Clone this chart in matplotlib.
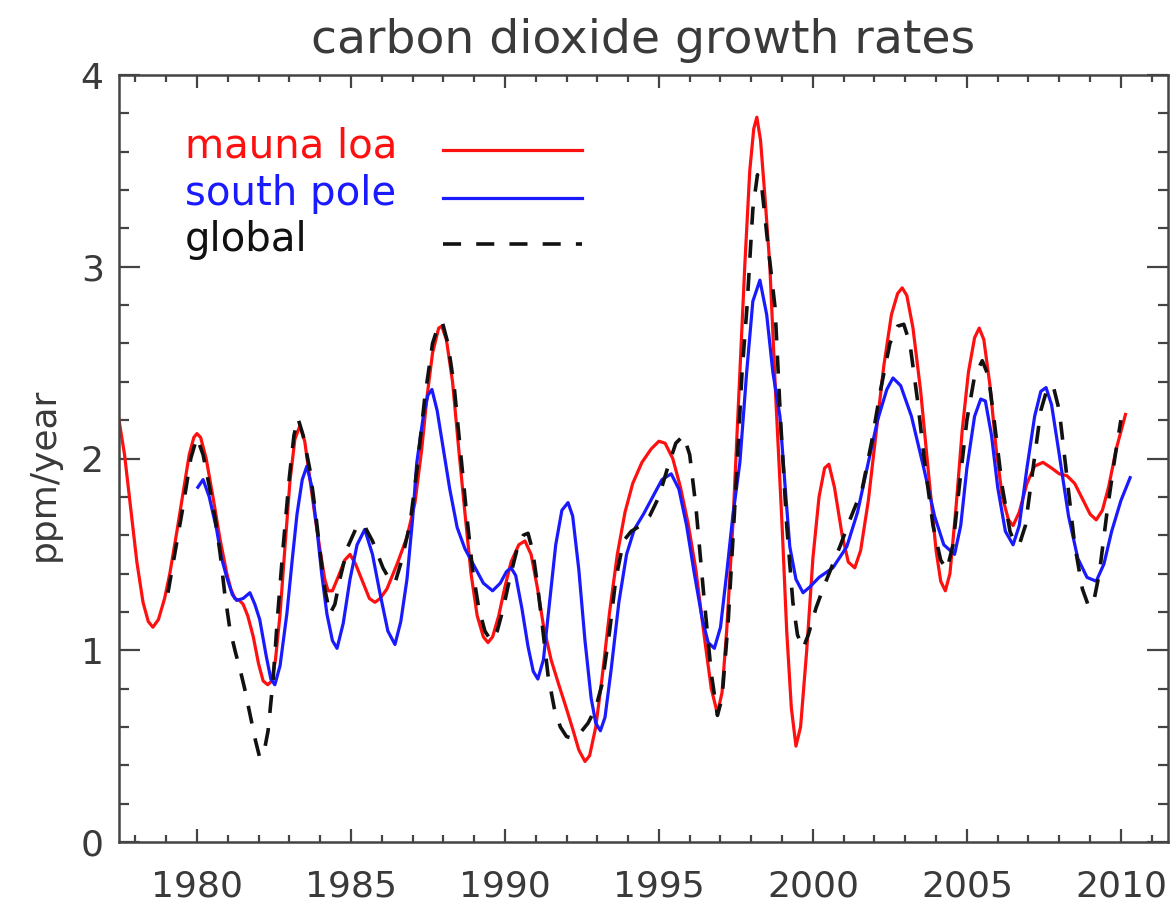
import matplotlib
matplotlib.use("Agg")
import matplotlib.pyplot as plt
from matplotlib.ticker import MultipleLocator

# values (year, ppm/year)
mauna_loa_year = [
    1977.47, 1977.65, 1977.85, 1978.05, 1978.25, 1978.42, 1978.57, 1978.75, 1978.95, 1979.12,
    1979.35, 1979.55, 1979.75, 1979.9, 1980.0, 1980.12, 1980.3, 1980.52, 1980.75, 1980.97,
    1981.1, 1981.23, 1981.38, 1981.5, 1981.65, 1981.83, 1982.0, 1982.15, 1982.3, 1982.43,
    1982.55, 1982.7, 1982.85, 1983.02, 1983.18, 1983.34, 1983.5, 1983.67, 1983.85, 1984.0,
    1984.15, 1984.26, 1984.4, 1984.58, 1984.8, 1984.97, 1985.15, 1985.4, 1985.6, 1985.78,
    1985.95, 1986.17, 1986.5, 1986.82, 1987.08, 1987.3, 1987.47, 1987.65, 1987.85, 1987.95,
    1988.1, 1988.3, 1988.5, 1988.7, 1988.9, 1989.1, 1989.3, 1989.45, 1989.6, 1989.8,
    1990.0, 1990.2, 1990.45, 1990.65, 1990.85, 1991.05, 1991.25, 1991.5, 1991.75, 1991.95,
    1992.2, 1992.4, 1992.6, 1992.75, 1992.95, 1993.15, 1993.4, 1993.65, 1993.9, 1994.15,
    1994.45, 1994.75, 1995.0, 1995.2, 1995.45, 1995.7, 1995.95, 1996.2, 1996.45, 1996.7,
    1996.9, 1997.05, 1997.2, 1997.4, 1997.6, 1997.79, 1997.95, 1998.08, 1998.18, 1998.3,
    1998.45, 1998.6, 1998.8, 1999.0, 1999.15, 1999.3, 1999.45, 1999.6, 1999.8, 2000.0,
    2000.2, 2000.38, 2000.52, 2000.7, 2000.95, 2001.15, 2001.36, 2001.55, 2001.8, 2002.05,
    2002.3, 2002.55, 2002.75, 2002.9, 2003.05, 2003.25, 2003.5, 2003.75, 2004.0, 2004.15,
    2004.3, 2004.45, 2004.65, 2004.85, 2005.05, 2005.25, 2005.4, 2005.55, 2005.75, 2005.95,
    2006.15, 2006.35, 2006.5, 2006.7, 2006.95, 2007.2, 2007.47, 2007.75, 2008.0, 2008.25,
    2008.5, 2008.75, 2009.0, 2009.2, 2009.4, 2009.6, 2009.85, 2010.15,
]
mauna_loa_rate = [
    2.20, 2.02, 1.74, 1.46, 1.25, 1.15, 1.12, 1.16, 1.27, 1.40,
    1.62, 1.82, 2.02, 2.11, 2.13, 2.11, 2.00, 1.80, 1.58, 1.40,
    1.32, 1.27, 1.26, 1.24, 1.18, 1.07, 0.93, 0.84, 0.82, 0.84,
    0.95, 1.19, 1.52, 1.88, 2.10, 2.17, 2.09, 1.89, 1.68, 1.52,
    1.37, 1.31, 1.31, 1.38, 1.47, 1.50, 1.45, 1.35, 1.27, 1.25,
    1.27, 1.32, 1.45, 1.59, 1.77, 2.05, 2.32, 2.55, 2.68, 2.69,
    2.62, 2.40, 2.05, 1.72, 1.40, 1.18, 1.07, 1.04, 1.07, 1.18,
    1.33, 1.46, 1.55, 1.57, 1.50, 1.33, 1.13, 0.95, 0.82, 0.72,
    0.59, 0.48, 0.42, 0.45, 0.60, 0.85, 1.20, 1.50, 1.72, 1.87,
    1.98, 2.05, 2.09, 2.08, 2.00, 1.85, 1.66, 1.42, 1.10, 0.80,
    0.67, 0.78, 1.10, 1.65, 2.35, 3.01, 3.50, 3.72, 3.78, 3.66,
    3.35, 3.01, 2.30, 1.65, 1.10, 0.70, 0.50, 0.60, 1.00, 1.48,
    1.80, 1.95, 1.97, 1.85, 1.60, 1.46, 1.43, 1.52, 1.78, 2.13,
    2.48, 2.75, 2.86, 2.89, 2.85, 2.68, 2.35, 1.93, 1.52, 1.36,
    1.31, 1.40, 1.75, 2.15, 2.45, 2.63, 2.68, 2.62, 2.38, 2.05,
    1.80, 1.68, 1.65, 1.72, 1.87, 1.96, 1.98, 1.95, 1.92, 1.91,
    1.87, 1.79, 1.71, 1.68, 1.73, 1.85, 2.05, 2.23,
]

south_pole_year = [
    1980.03, 1980.2, 1980.4, 1980.64, 1980.8, 1980.97, 1981.15, 1981.29, 1981.5, 1981.72,
    1981.88, 1982.04, 1982.25, 1982.4, 1982.53, 1982.7, 1982.92, 1983.1, 1983.25, 1983.42,
    1983.57, 1983.72, 1983.9, 1984.05, 1984.22, 1984.4, 1984.55, 1984.75, 1984.97, 1985.2,
    1985.45, 1985.7, 1985.94, 1986.2, 1986.43, 1986.62, 1986.82, 1987.0, 1987.14, 1987.35,
    1987.5, 1987.63, 1987.8, 1988.0, 1988.21, 1988.45, 1988.7, 1989.0, 1989.3, 1989.6,
    1989.85, 1990.05, 1990.2, 1990.35, 1990.55, 1990.75, 1990.92, 1991.07, 1991.25, 1991.45,
    1991.65, 1991.85, 1992.05, 1992.2, 1992.4, 1992.6, 1992.8, 1992.95, 1993.1, 1993.25,
    1993.45, 1993.7, 1993.95, 1994.2, 1994.5, 1994.8, 1995.1, 1995.4, 1995.65, 1995.9,
    1996.15, 1996.4, 1996.6, 1996.8, 1997.0, 1997.2, 1997.4, 1997.63, 1997.85, 1998.05,
    1998.28, 1998.5, 1998.7, 1998.93, 1999.1, 1999.25, 1999.45, 1999.68, 1999.9, 2000.2,
    2000.65, 2001.1, 2001.45, 2001.8, 2002.1, 2002.4, 2002.6, 2002.85, 2003.2, 2003.6,
    2003.95, 2004.25, 2004.6, 2004.8, 2005.0, 2005.25, 2005.45, 2005.6, 2005.8, 2006.0,
    2006.25, 2006.5, 2006.7, 2006.95, 2007.2, 2007.4, 2007.57, 2007.75, 2008.0, 2008.3,
    2008.6, 2008.9, 2009.2, 2009.45, 2009.7, 2010.0, 2010.3,
]
south_pole_rate = [
    1.85, 1.89, 1.80, 1.63, 1.48, 1.38, 1.29, 1.26, 1.27, 1.30,
    1.24, 1.16, 0.97, 0.85, 0.82, 0.92, 1.19, 1.48, 1.71, 1.89,
    1.96, 1.86, 1.63, 1.40, 1.19, 1.05, 1.01, 1.14, 1.37, 1.55,
    1.63, 1.50, 1.30, 1.10, 1.03, 1.15, 1.37, 1.68, 1.98, 2.22,
    2.33, 2.36, 2.25, 2.05, 1.84, 1.64, 1.53, 1.44, 1.35, 1.31,
    1.35, 1.41, 1.43, 1.39, 1.22, 1.02, 0.89, 0.85, 0.95, 1.25,
    1.55, 1.73, 1.77, 1.70, 1.42, 1.05, 0.75, 0.62, 0.58, 0.65,
    0.90, 1.25, 1.50, 1.63, 1.71, 1.80, 1.89, 1.92, 1.84, 1.65,
    1.40, 1.17, 1.04, 1.01, 1.12, 1.40, 1.70, 1.98, 2.45, 2.82,
    2.93, 2.75, 2.45, 2.22, 1.85, 1.54, 1.37, 1.30, 1.33, 1.38,
    1.43, 1.54, 1.72, 1.98, 2.20, 2.36, 2.42, 2.38, 2.22, 1.95,
    1.70, 1.55, 1.50, 1.65, 1.95, 2.22, 2.31, 2.30, 2.12, 1.85,
    1.62, 1.55, 1.65, 1.95, 2.22, 2.35, 2.37, 2.28, 2.02, 1.70,
    1.48, 1.38, 1.36, 1.45, 1.62, 1.78, 1.90,
]

global_year = [
    1979.06, 1979.3, 1979.55, 1979.8, 1980.0, 1980.2, 1980.42, 1980.6, 1980.75, 1980.9,
    1981.07, 1981.25, 1981.4, 1981.55, 1981.72, 1981.9, 1982.04, 1982.18, 1982.31, 1982.47,
    1982.62, 1982.8, 1983.0, 1983.15, 1983.28, 1983.45, 1983.67, 1983.85, 1984.0, 1984.15,
    1984.32, 1984.48, 1984.64, 1984.9, 1985.15, 1985.4, 1985.7, 1986.04, 1986.25, 1986.43,
    1986.65, 1986.92, 1987.15, 1987.4, 1987.65, 1987.85, 1987.97, 1988.15, 1988.35, 1988.55,
    1988.75, 1988.95, 1989.15, 1989.35, 1989.55, 1989.75, 1989.95, 1990.15, 1990.4, 1990.6,
    1990.75, 1990.9, 1991.05, 1991.2, 1991.4, 1991.6, 1991.8, 1992.0, 1992.2, 1992.45,
    1992.7, 1992.95, 1993.15, 1993.4, 1993.6, 1993.85, 1994.1, 1994.4, 1994.7, 1995.0,
    1995.3, 1995.55, 1995.8, 1996.0, 1996.2, 1996.45, 1996.7, 1996.9, 1997.05, 1997.25,
    1997.5, 1997.7, 1997.86, 1998.05, 1998.2, 1998.35, 1998.55, 1998.77, 1998.95, 1999.15,
    1999.35, 1999.5, 1999.68, 1999.85, 2000.1, 2000.35, 2000.6, 2000.9, 2001.2, 2001.6,
    2001.9, 2002.2, 2002.5, 2002.75, 2002.95, 2003.15, 2003.4, 2003.65, 2003.9, 2004.15,
    2004.35, 2004.55, 2004.75, 2005.0, 2005.25, 2005.5, 2005.7, 2005.9, 2006.15, 2006.4,
    2006.55, 2006.7, 2006.9, 2007.15, 2007.4, 2007.6, 2007.8, 2008.0, 2008.25, 2008.5,
    2008.75, 2008.95, 2009.1, 2009.3, 2009.55, 2009.8, 2010.0,
]
global_rate = [
    1.30, 1.52, 1.75, 2.00, 2.11, 2.02, 1.84, 1.68, 1.51, 1.30,
    1.11, 0.99, 0.90, 0.80, 0.67, 0.53, 0.44, 0.47, 0.58, 0.84,
    1.18, 1.54, 1.90, 2.12, 2.21, 2.12, 1.94, 1.72, 1.51, 1.32,
    1.19, 1.24, 1.37, 1.54, 1.63, 1.66, 1.57, 1.43, 1.37, 1.35,
    1.47, 1.66, 1.95, 2.32, 2.60, 2.70, 2.71, 2.60, 2.38, 2.05,
    1.72, 1.42, 1.22, 1.10, 1.05, 1.10, 1.22, 1.37, 1.53, 1.60,
    1.61, 1.52, 1.35, 1.15, 0.87, 0.70, 0.60, 0.55, 0.54, 0.57,
    0.62, 0.70, 0.82, 1.10, 1.37, 1.57, 1.62, 1.65, 1.70, 1.80,
    1.96, 2.08, 2.12, 2.02, 1.75, 1.30, 0.88, 0.66, 0.75, 1.15,
    1.85, 2.45, 2.79, 3.30, 3.48, 3.40, 3.10, 2.79, 2.20, 1.65,
    1.25, 1.08, 1.01, 1.08, 1.22, 1.33, 1.43, 1.55, 1.68, 1.84,
    2.08, 2.36, 2.60, 2.69, 2.70, 2.60, 2.30, 1.95, 1.65, 1.47,
    1.42, 1.55, 1.85, 2.20, 2.43, 2.51, 2.43, 2.18, 1.85, 1.62,
    1.56, 1.55, 1.65, 1.95, 2.25, 2.36, 2.38, 2.25, 1.90, 1.55,
    1.32, 1.23, 1.24, 1.40, 1.72, 2.00, 2.20,
]

series_names = ["mauna loa", "south pole", "global"]
series_colors = ["#ff1010", "#1a1aff", "#111111"]

TEXT_COLOR = "#3a3a3a"
AXIS_COLOR = "#444444"
DASHES = (0, (5.0, 4.2))

plt.rcParams["font.family"] = ["DejaVu Sans"]

fig = plt.figure(figsize=(11.74, 9.07), dpi=100)
ax = fig.add_axes([119 / 1174, 65 / 907, 1049 / 1174, 767 / 907])

lw = 2.3
ax.plot(mauna_loa_year, mauna_loa_rate, color=series_colors[0], linewidth=lw,
        solid_joinstyle="round")
ax.plot(south_pole_year, south_pole_rate, color=series_colors[1], linewidth=lw,
        solid_joinstyle="round")
ax.plot(global_year, global_rate, color=series_colors[2], linewidth=2.6,
        linestyle=DASHES, dash_joinstyle="round")

ax.set_xlim(1977.47, 2011.53)
ax.set_ylim(0, 4)

ax.xaxis.set_major_locator(MultipleLocator(5))
ax.xaxis.set_minor_locator(MultipleLocator(1))
ax.yaxis.set_major_locator(MultipleLocator(1))
ax.yaxis.set_minor_locator(MultipleLocator(0.2))

ax.tick_params(axis="x", which="major", direction="in", length=9.5, width=1.6,
               top=True, bottom=True, labelsize=26, pad=20, colors=AXIS_COLOR,
               labelcolor=TEXT_COLOR)
ax.tick_params(axis="x", which="minor", direction="in", length=5, width=1.6,
               top=True, bottom=True, colors=AXIS_COLOR)
ax.tick_params(axis="y", which="major", direction="in", length=15, width=1.6,
               left=True, right=True, labelsize=26, pad=11, colors=AXIS_COLOR,
               labelcolor=TEXT_COLOR)
ax.tick_params(axis="y", which="minor", direction="in", length=7.5, width=1.6,
               left=True, right=True, colors=AXIS_COLOR)

for spine in ax.spines.values():
    spine.set_color(AXIS_COLOR)
    spine.set_linewidth(1.8)

fig.canvas.draw()
ylabels = ax.get_yticklabels()
ylabels[0].set_verticalalignment("baseline")
ylabels[-1].set_verticalalignment("top")

ax.set_ylabel("ppm/year", fontsize=26, color=TEXT_COLOR)
ax.yaxis.set_label_coords(-0.056, 0.48)

ax.set_title("carbon dioxide growth rates", fontsize=34, color=TEXT_COLOR, pad=16)

# legend: text on the left, line sample on the right
legend_rows = [0.902, 0.840, 0.780]
legend_styles = ["-", "-", DASHES]
for name, color, row, style in zip(series_names, series_colors, legend_rows, legend_styles):
    ax.text(0.063, row - 0.009, name, color=color, fontsize=29, transform=ax.transAxes,
            ha="left", va="baseline")
    ax.plot([0.309, 0.441], [row, row], color=color, linewidth=lw if style == "-" else 2.6,
            linestyle=style, transform=ax.transAxes)

fig.savefig("out.png", dpi=100)
